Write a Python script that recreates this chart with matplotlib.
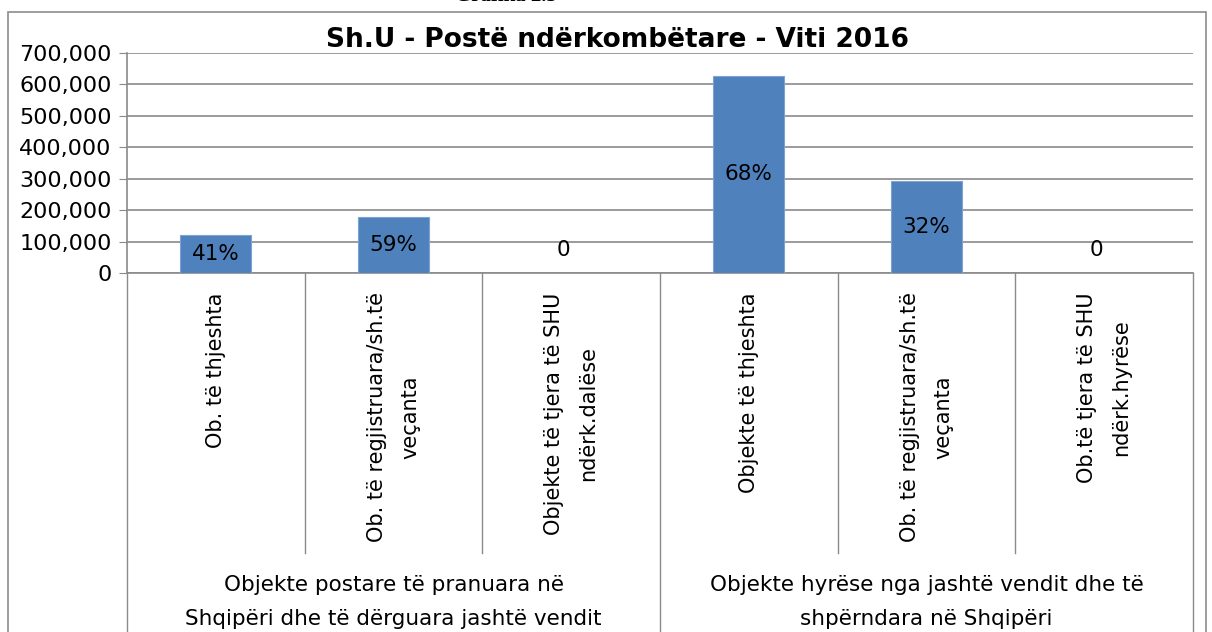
import matplotlib
matplotlib.use("Agg")
import matplotlib.pyplot as plt
from matplotlib.patches import Rectangle
from matplotlib.ticker import FuncFormatter
import matplotlib.transforms as mtrans

# data
categories = ["Ob. të thjeshta",
              "Ob. të regjistruara/sh.të\nveçanta",
              "Objekte të tjera të SHU\nndërk.dalëse",
              "Objekte të thjeshta",
              "Ob. të regjistruara/sh.të\nveçanta",
              "Ob.të tjera të SHU\nndërk.hyrëse"]
values = [122000, 177000, 0, 628000, 294000, 0]
groups = ["Objekte postare të pranuara në\nShqipëri dhe të dërguara jashtë vendit",
          "Objekte hyrëse nga jashtë vendit dhe të\nshpërndara në Shqipëri"]
group_size = [3, 3]
yticks = [0, 100000, 200000, 300000, 400000, 500000, 600000, 700000]

title = "Sh.U - Postë ndërkombëtare - Viti 2016"
bar_color = "#4F81BD"
grid_color = "#8a8a8a"


def main():
    W, H = 1212, 632
    fig = plt.figure(figsize=(W / 100, H / 100), dpi=100)
    plt.rcParams['font.family'] = ['DejaVu Sans']

    left, right, top, bottom = 127, 1193, 53, 273
    ax = fig.add_axes([left / W, 1 - bottom / H, (right - left) / W, (bottom - top) / H])

    x = list(range(len(values)))
    ax.bar(x, values, width=0.4, color=bar_color, edgecolor="#7da3d3", linewidth=0.8, zorder=3)

    # percentage labels within each group
    start = 0
    for g in group_size:
        total = sum(values[start:start + g])
        for i in range(start, start + g):
            v = values[i]
            if v == 0:
                ax.annotate("0", (i, 0), xytext=(-8, 23), textcoords="offset pixels",
                            ha="center", va="center", fontsize=15.5, zorder=4)
            else:
                ax.text(i, v / 2, "%d%%" % round(100 * v / total), ha="center",
                        va="center", fontsize=15.5, zorder=4)
        start += g

    ax.set_xlim(-0.5, len(values) - 0.5)
    ax.set_ylim(0, 700000)
    ax.set_yticks(yticks)
    ax.yaxis.set_major_formatter(FuncFormatter(lambda v, p: "{:,}".format(int(v))))
    ax.tick_params(axis="y", length=6, color=grid_color, labelsize=16, pad=5)
    ax.grid(axis="y", color=grid_color, linewidth=1.2, zorder=0)

    ax.set_xticks(x)
    ax.set_xticklabels(categories, rotation=90, va="top", ha="center", fontsize=15,
                       linespacing=1.85)
    ax.tick_params(axis="x", length=0, pad=14)

    for s in ["top", "right"]:
        ax.spines[s].set_visible(False)
    ax.spines["left"].set_color(grid_color)
    ax.spines["bottom"].set_color(grid_color)
    ax.spines["left"].set_linewidth(1.2)
    ax.spines["bottom"].set_linewidth(1.2)

    # category dividers below the axis
    tr = mtrans.blended_transform_factory(ax.transData, ax.transAxes)
    low = -(553 - bottom) / (bottom - top)
    floor = -(H + 10 - bottom) / (bottom - top)
    bounds = [-0.5]
    for g in group_size:
        bounds.append(bounds[-1] + g)
    for k in range(len(values) + 1):
        xb = k - 0.5
        y2 = floor if xb in bounds else low
        ax.plot([xb, xb], [0, y2], transform=tr, color=grid_color, lw=1.0, clip_on=False)

    # group labels
    gy = -(602 - bottom) / (bottom - top)
    for j, name in enumerate(groups):
        xc = (bounds[j] + bounds[j + 1]) / 2
        ax.text(xc, gy, name, transform=tr, ha="center", va="center", fontsize=15.5,
                linespacing=1.9)

    fig.text(618 / W, 1 - 40 / H, title, ha="center", va="center", fontsize=19,
             fontweight="bold")
    fig.text(506 / W, 1 + 4 / H, "Grafika 2.5", ha="center", va="center", fontsize=15,
             fontweight="bold", family=["Liberation Serif", "DejaVu Serif"])

    fig.add_artist(Rectangle((8 / W, -0.1), (1206 - 8) / W, (H - 12) / H + 0.1,
                             transform=fig.transFigure, fill=False, ec="#8c8c8c", lw=1.2))

    fig.savefig("out.png", dpi=100)


if __name__ == "__main__":
    main()
